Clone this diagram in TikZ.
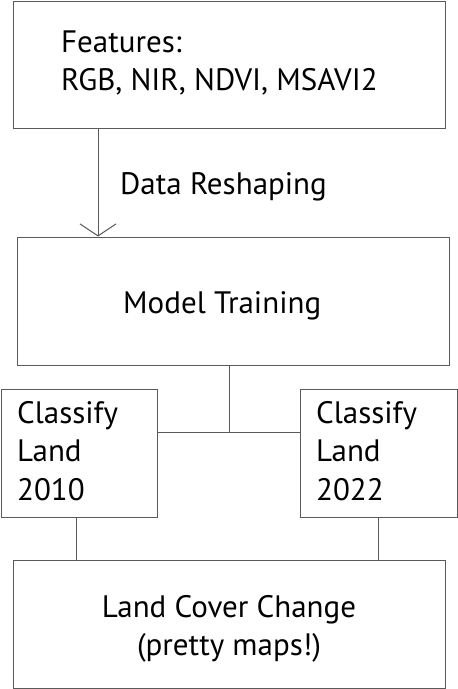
\documentclass[tikz,border=0pt]{standalone}
\usepackage{fontspec}
\setmainfont{PT Sans}
\usetikzlibrary{arrows.meta}
\definecolor{linegray}{RGB}{90,90,90}
\begin{document}
\begin{tikzpicture}[x=1pt,y=-1pt,
  box/.style={draw=linegray,line width=1pt,inner sep=0pt,minimum width=#1,minimum height=128pt},
  lbl/.style={anchor=base west,inner sep=0pt,font=\fontsize{31}{38}\selectfont,text=black},
  conn/.style={draw=linegray,line width=1pt}]
\useasboundingbox (0,0) rectangle (458,689);
\node[box=432pt,minimum height=127pt] (top) at (229,64.5) {};
\node[box=432pt] (mt) at (233,301) {};
\node[box=156pt] (left) at (79,453) {};
\node[box=157pt] (right) at (378.5,453) {};
\node[box=432pt] (bottom) at (229,624) {};
\node[lbl] (t1) at (61,52) {Features:};
\node[lbl] (t2) at (61,90) {RGB, NIR, NDVI, MSAVI2};
\node[lbl] (t3) at (120,194) {Data Reshaping};
\node[lbl] (t4) at (123,313) {Model Training};
\node[lbl] (t5) at (17,423) {Classify};
\node[lbl] (t6) at (17,461.5) {Land};
\node[lbl] (t7) at (17,500) {2010};
\node[lbl] (t8) at (316,423) {Classify};
\node[lbl] (t9) at (316,461.5) {Land};
\node[lbl] (t10) at (316,500) {2022};
\node[lbl,anchor=base] (t11) at (229,617) {Land Cover Change};
\node[lbl,anchor=base] (t12) at (229,655) {(pretty maps!)};
\coordinate (a) at (98,0);
\coordinate (j) at (229,432);
\coordinate (l1) at (76,0);
\coordinate (r1) at (378,0);
\draw[conn,-{Straight Barb[length=12pt,width=36pt,line width=1pt]}] (top.south -| a) -- (mt.north -| a);
\draw[conn] (mt.south -| j) -- (j);
\draw[conn] (left.east |- j) -- (right.west |- j);
\draw[conn] (left.south -| l1) -- (bottom.north -| l1);
\draw[conn] (right.south -| r1) -- (bottom.north -| r1);
\end{tikzpicture}
\end{document}
